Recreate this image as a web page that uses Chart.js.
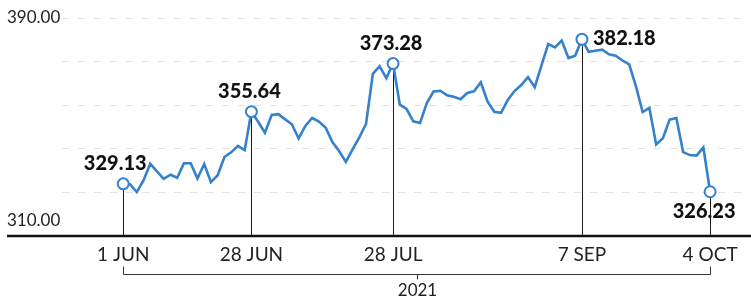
<!DOCTYPE html>
<html>
<head>
<meta charset="utf-8">
<script src="https://cdn.jsdelivr.net/npm/chart.js@4.4.1/dist/chart.umd.min.js"></script>
<style>
  html, body { margin: 0; padding: 0; background: #fff; }
  #wrap { width: 751px; height: 298px; }
</style>
</head>
<body>
<div id="wrap"><canvas id="chart"></canvas></div>
<script>
// trading days, June - October 2021
const months = ["JUN", "JUL", "AUG", "SEP", "OCT"];
const tradingDays = [
  [1, 2, 3, 4, 7, 8, 9, 10, 11, 14, 15, 16, 17, 18, 21, 22, 23, 24, 25, 28, 29, 30],
  [1, 2, 6, 7, 8, 9, 12, 13, 14, 15, 16, 19, 20, 21, 22, 23, 26, 27, 28, 29, 30],
  [2, 3, 4, 5, 6, 9, 10, 11, 12, 13, 16, 17, 18, 19, 20, 23, 24, 25, 26, 27, 30, 31],
  [1, 2, 3, 7, 8, 9, 10, 13, 14, 15, 16, 17, 20, 21, 22, 23, 24, 27, 28, 29, 30],
  [1, 4]
];

// closing prices
const junClose = [329.13, 329.0, 326.1, 330.4, 336.5, 333.7, 331.0, 332.5, 331.4, 336.7, 336.7,
  331.1, 336.4, 329.8, 332.3, 339.0, 340.7, 343.1, 341.5, 355.64, 351.9, 347.9];
const julClose = [354.4, 354.7, 352.8, 351.0, 345.8, 350.4, 353.3, 352.0, 349.8, 344.5, 341.2,
  337.2, 341.8, 346.2, 351.2, 369.5, 372.3, 367.9, 373.28, 358.2, 356.6];
const augClose = [352.1, 351.5, 358.8, 363.0, 363.3, 361.6, 361.1, 360.2, 362.5, 363.1, 366.4,
  359.4, 355.6, 355.2, 359.9, 363.2, 365.4, 368.3, 364.6, 372.6, 380.4, 379.2];
const sepClose = [381.7, 375.3, 376.2, 382.18, 377.6, 378.0, 378.4, 376.7, 376.2, 374.4, 373.0,
  365.0, 355.5, 357.0, 343.6, 345.9, 352.7, 353.3, 340.8, 339.7, 339.5];
const octClose = [342.5, 326.23];

const tickDates = ["1 JUN", "28 JUN", "28 JUL", "7 SEP", "4 OCT"];
const markedDates = ["1 JUN", "28 JUN", "28 JUL", "7 SEP", "4 OCT"];
const yLabels = [310, 390];
const yearLabel = "2021";

const labels = [];
months.forEach((m, i) => tradingDays[i].forEach(d => labels.push(d + " " + m)));
const closes = [].concat(junClose, julClose, augClose, sepClose, octClose);
const tickIdx = tickDates.map(d => labels.indexOf(d));
const markIdx = markedDates.map(d => labels.indexOf(d));

// label placement for the marked points: [dx, dy, align]
const markPlacement = [[-8, -20, "center"], [-2, -20, "center"], [-2, -20, "center"], [11, -1, "left"], [-6, 20, "center"]];

const LINE_BLUE = "#3581cc";
const FONT = "Lato, 'Open Sans', sans-serif";

const decor = {
  id: "decor",
  beforeDatasetsDraw(chart) {
    const { ctx } = chart;
    const xs = chart.scales.x, ys = chart.scales.y;
    const base = ys.getPixelForValue(ys.min);
    ctx.save();
    ctx.strokeStyle = "#1a1a1a";
    ctx.lineWidth = 1;
    markIdx.forEach(i => {
      const x = Math.round(xs.getPixelForValue(i)) + 0.5;
      ctx.beginPath();
      ctx.moveTo(x, ys.getPixelForValue(closes[i]) + 6);
      ctx.lineTo(x, base);
      ctx.stroke();
    });
    ctx.restore();
  },
  afterDatasetsDraw(chart) {
    const { ctx } = chart;
    const xs = chart.scales.x, ys = chart.scales.y;
    const base = ys.getPixelForValue(ys.min);
    ctx.save();

    // baseline
    ctx.strokeStyle = "#111";
    ctx.lineWidth = 2.5;
    ctx.beginPath();
    ctx.moveTo(7, base);
    ctx.lineTo(chart.width, base);
    ctx.stroke();

    // y labels
    ctx.fillStyle = "#222";
    ctx.font = "17px " + FONT;
    ctx.textAlign = "left";
    ctx.textBaseline = "middle";
    yLabels.forEach(v => {
      const y = ys.getPixelForValue(v);
      ctx.fillText(v.toFixed(2), 7, v === ys.min ? y - 15 : y);
    });

    // marked values
    ctx.fillStyle = "#111";
    ctx.font = "900 20px " + FONT;
    markIdx.forEach((i, k) => {
      const [dx, dy, align] = markPlacement[k];
      ctx.textAlign = align;
      ctx.fillText(closes[i].toFixed(2), xs.getPixelForValue(i) + dx, ys.getPixelForValue(closes[i]) + dy);
    });

    // year bracket
    const x0 = Math.round(xs.getPixelForValue(markIdx[0])) + 0.5;
    const x1 = Math.round(xs.getPixelForValue(markIdx[markIdx.length - 1])) + 0.5;
    const xm = Math.round((x0 + x1) / 2) + 0.5;
    const by = base + 38.5;
    ctx.strokeStyle = "#333";
    ctx.lineWidth = 1;
    ctx.beginPath();
    ctx.moveTo(x0, by - 8);
    ctx.lineTo(x0, by);
    ctx.lineTo(x1, by);
    ctx.lineTo(x1, by - 8);
    ctx.moveTo(xm, by);
    ctx.lineTo(xm, by + 5);
    ctx.stroke();
    ctx.fillStyle = "#222";
    ctx.font = "17px " + FONT;
    ctx.textAlign = "center";
    ctx.fillText(yearLabel, xm, by + 16);
    ctx.restore();
  }
};

const ctx = document.getElementById("chart").getContext("2d");
new Chart(ctx, {
  type: "line",
  data: {
    datasets: [{
      data: closes.map((v, i) => ({ x: i, y: v })),
      borderColor: LINE_BLUE,
      borderWidth: 2.6,
      tension: 0,
      pointRadius: closes.map((v, i) => markIdx.includes(i) ? 5.5 : 0),
      pointBackgroundColor: "#fff",
      pointBorderColor: LINE_BLUE,
      pointBorderWidth: 2,
      pointHoverRadius: 0
    }]
  },
  options: {
    responsive: true,
    maintainAspectRatio: false,
    animation: false,
    layout: { padding: { left: 62, right: 0, top: 18, bottom: 0 } },
    plugins: { legend: { display: false }, tooltip: { enabled: false } },
    scales: {
      x: {
        type: "linear",
        min: -9.08,
        max: 91.95,
        grid: { display: false, drawTicks: false },
        border: { display: false },
        afterBuildTicks: s => { s.ticks = tickIdx.map(v => ({ value: v })); },
        afterFit: s => { s.height = 62; },
        ticks: {
          autoSkip: false,
          maxRotation: 0,
          padding: 7,
          color: "#222",
          font: { family: FONT, size: 19 },
          callback: v => labels[v]
        }
      },
      y: {
        min: 310,
        max: 390,
        ticks: { display: false, stepSize: 16 },
        grid: { color: "#e2e2e2", lineWidth: 1, drawTicks: false },
        border: { display: false, dash: [7, 9] },
        afterFit: s => { s.width = 0; }
      }
    }
  },
  plugins: [decor]
});
</script>
</body>
</html>
